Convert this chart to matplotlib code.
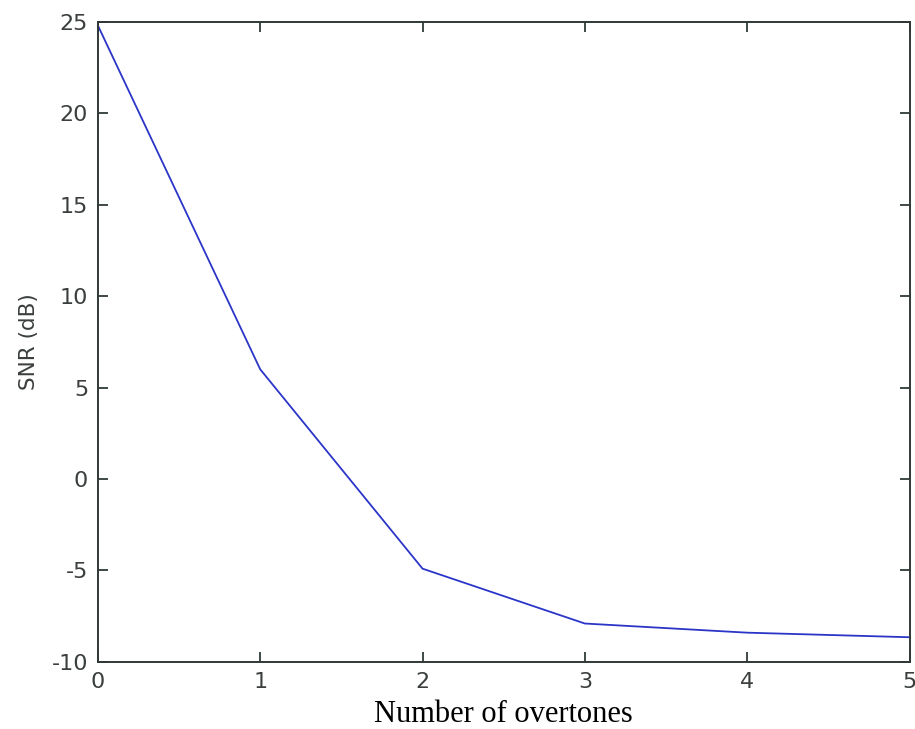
import matplotlib.pyplot as plt

overtones = [0, 1, 2, 3, 4, 5]
snr_db = [24.8, 6.0, -4.9, -7.9, -8.4, -8.65]

x_ticks = [0, 1, 2, 3, 4, 5]
y_ticks = [-10, -5, 0, 5, 10, 15, 20, 25]

plt.rcParams["axes.unicode_minus"] = False

fig = plt.figure(figsize=(9.15, 7.29), dpi=100)
ax = fig.add_axes([0.107, 0.092, 0.887, 0.878])

ax.plot(overtones, snr_db, color="#2b35c8", linewidth=1.3)

ax.set_xlim(0, 5)
ax.set_ylim(-10, 25)
ax.set_xticks(x_ticks)
ax.set_yticks(y_ticks)

for side in ax.spines.values():
    side.set_color("#2f3a36")
    side.set_linewidth(1.4)

ax.tick_params(direction="in", top=True, right=True, length=7, width=1.3,
               color="#2f3a36", labelcolor="#3a3f3d", labelsize=16, pad=7)
for lab in ax.get_xticklabels() + ax.get_yticklabels():
    lab.set_fontfamily("DejaVu Sans")

ax.set_xlabel("Number of overtones", fontfamily="Liberation Serif",
              fontsize=22, color="black", labelpad=6)
ax.set_ylabel("SNR (dB)", fontfamily="DejaVu Sans", fontsize=15.5,
              color="#3a3f3d", labelpad=9)

fig.savefig("out.png", dpi=100)
